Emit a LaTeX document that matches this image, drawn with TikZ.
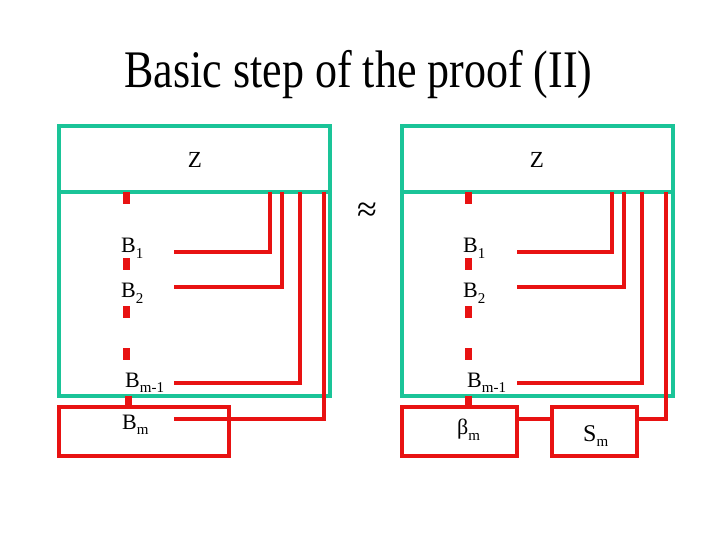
\documentclass[tikz,border=0pt]{standalone}
\usepackage{fontspec}
\setmainfont{Liberation Serif}
\definecolor{tgreen}{RGB}{26,196,152}
\definecolor{tred}{RGB}{232,18,18}
\newcommand\mysub[2][6pt]{\raisebox{-#1}{\fontsize{15}{15}\selectfont #2}}
\begin{document}
\begin{tikzpicture}[x=1pt,y=-1pt,
 gbox/.style={draw=tgreen,line width=4pt,rectangle,inner sep=0pt,outer sep=0pt},
 gline/.style={draw=tgreen,line width=4pt},
 rbox/.style={draw=tred,line width=4pt,rectangle,inner sep=0pt,outer sep=0pt},
 wire/.style={draw=tred,line width=4pt},
 tick/.style={draw=tred,line width=7pt},
 lbl/.style={anchor=base west,inner sep=0pt,font=\fontsize{22}{22}\selectfont},
 ztext/.style={font=\fontsize{23}{23}\selectfont,inner sep=0pt}]
\useasboundingbox (0,0) rectangle (720,540);

% title
\node[anchor=base,inner sep=0pt] (title) at (358.5,88)
  {\scalebox{1}[1.2]{\fontsize{44}{44}\selectfont Basic step of the proof (II)}};

% green boxes
\node[gbox,minimum width=271pt,minimum height=270pt] (L) at (194.5,261) {};
\node[gbox,minimum width=271pt,minimum height=270pt] (R) at (537.5,261) {};
\draw[gline] (L.west |- 0,192) -- (L.east |- 0,192);
\draw[gline] (R.west |- 0,192) -- (R.east |- 0,192);
\node[ztext] (Lz) at (195,160) {Z};
\node[ztext] (Rz) at (537,160) {Z};

% approx sign
\node[inner sep=0pt,font=\fontsize{36}{36}\selectfont] (approx) at (367,212) {≈};

% red boxes
\node[rbox,minimum width=170pt,minimum height=49pt] (Bm) at (144,431.5) {};
\node[rbox,minimum width=115pt,minimum height=49pt] (Beta) at (459.5,431.5) {};
\node[rbox,minimum width=85pt,minimum height=49pt] (Sm) at (594.5,431.5) {};

% labels left
\node[lbl] (LB1) at (121,252) {B\mysub{1}};
\node[lbl] (LB2) at (121,297) {B\mysub{2}};
\node[lbl] (LBm1) at (125,387) {B\mysub[5pt]{m-1}};
\node[lbl] (LBm) at (122,429) {B\mysub[5pt]{m}};
% labels right
\node[lbl] (RB1) at (463,252) {B\mysub{1}};
\node[lbl] (RB2) at (463,297) {B\mysub{2}};
\node[lbl] (RBm1) at (467,387) {B\mysub[5pt]{m-1}};
\node[lbl] (RBeta) at (457,434) {β\mysub[6pt]{m}};
\node[lbl,font=\fontsize{24}{24}\selectfont] (RSm) at (583,441) {S\mysub[5pt]{m}};

% wire end coordinates
\coordinate (lw1) at (174,252);
\coordinate (lw2) at (174,287);
\coordinate (lw3) at (174,383);
\coordinate (lw4) at (174,419);
\coordinate (rw1) at (517,252);
\coordinate (rw2) at (517,287);
\coordinate (rw3) at (517,383);
\coordinate (rw4) at (Sm.east |- 0,419);

% left wires
\draw[wire] (270,192) |- (lw1);
\draw[wire] (282,192) |- (lw2);
\draw[wire] (300,192) |- (lw3);
\draw[wire] (324,192) |- (lw4);
% right wires
\draw[wire] (612,192) |- (rw1);
\draw[wire] (624,192) |- (rw2);
\draw[wire] (642,192) |- (rw3);
\draw[wire] (666,192) |- (rw4);
\draw[wire] (Beta.east |- 0,419) -- (Sm.west |- 0,419);

% dashes
\foreach \a/\b in {192/204,258/270,306/318,348/360}{
  \draw[tick] (126,\a) -- (126,\b);
  \draw[tick] (468,\a) -- (468,\b);
}
\draw[tick] (128,396) -- (Bm.north -| 128,0);
\draw[tick] (468,396) -- (Beta.north -| 468,0);
\end{tikzpicture}
\end{document}
